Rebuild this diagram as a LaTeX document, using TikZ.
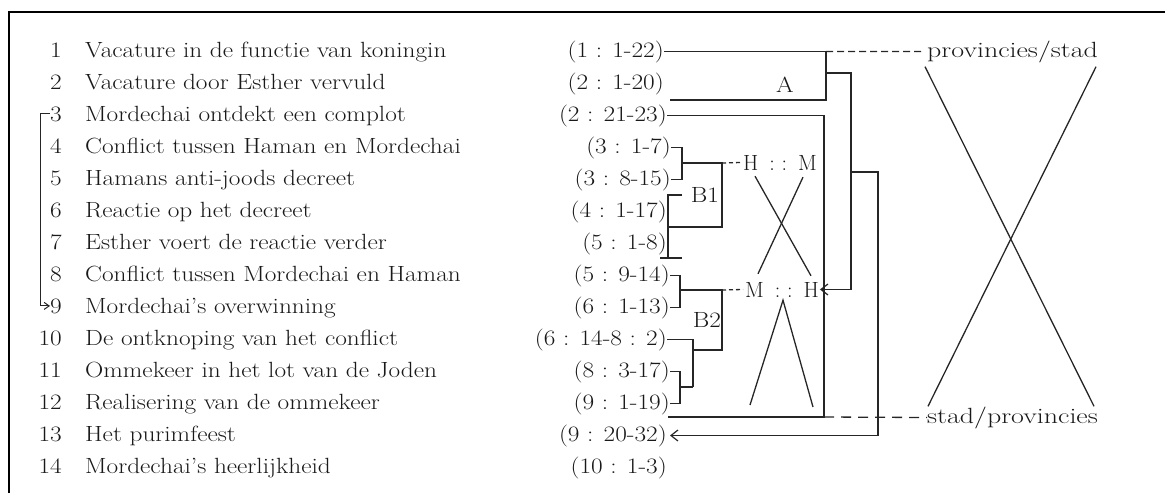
\documentclass[tikz,border=0pt]{standalone}
\usepackage{fontspec}
\usepackage{graphicx}
\usetikzlibrary{arrows.meta,calc}
\newcommand\W[1]{\scalebox{1.15}[1]{#1}}
\newcommand\WW[1]{\scalebox{1.27}[1]{#1}}
\tikzset{
  lbl/.style={font=\fontsize{22}{25}\selectfont, inner sep=0pt, text=black!90},
  conn/.style={line width=1.3pt, draw=black!85},
  dashA/.style={conn, dash pattern=on 7pt off 4pt},
  dashB/.style={conn, dash pattern=on 10pt off 7pt},
  dashC/.style={conn, dash pattern=on 4pt off 3pt},
  arr/.style={-{Straight Barb[length=7pt,width=11pt,line width=1.2pt]}},
  sarr/.style={-{Straight Barb[length=5pt,width=7pt,line width=1pt]}},
}
\begin{document}
\begin{tikzpicture}[x=1pt,y=-1pt]
\useasboundingbox (0,0) rectangle (1165,493);
\draw[line width=2pt] (9,493) -- (9,12) -- (1165,12);

% numbers
\node[lbl,anchor=base east] (n1) at (62,57) {\W{1}};
\node[lbl,anchor=base east] (n2) at (62,89) {\W{2}};
\node[lbl,anchor=base east] (n3) at (62,121) {\W{3}};
\node[lbl,anchor=base east] (n4) at (62,153) {\W{4}};
\node[lbl,anchor=base east] (n5) at (62,185) {\W{5}};
\node[lbl,anchor=base east] (n6) at (62,217) {\W{6}};
\node[lbl,anchor=base east] (n7) at (62,249) {\W{7}};
\node[lbl,anchor=base east] (n8) at (62,281) {\W{8}};
\node[lbl,anchor=base east] (n9) at (62,313) {\W{9}};
\node[lbl,anchor=base east] (n10) at (62,345) {\W{10}};
\node[lbl,anchor=base east] (n11) at (62,377) {\W{11}};
\node[lbl,anchor=base east] (n12) at (62,409) {\W{12}};
\node[lbl,anchor=base east] (n13) at (62,441) {\W{13}};
\node[lbl,anchor=base east] (n14) at (62,473) {\W{14}};

% titles
\node[lbl,anchor=base west] (t1) at (85,57) {\W{Vacature in de functie van koningin}};
\node[lbl,anchor=base west] (t2) at (85,89) {\W{Vacature door Esther vervuld}};
\node[lbl,anchor=base west] (t3) at (85,121) {\W{Mordechai ontdekt een complot}};
\node[lbl,anchor=base west] (t4) at (85,153) {\W{Conflict tussen Haman en Mordechai}};
\node[lbl,anchor=base west] (t5) at (85,185) {\W{Hamans anti-joods decreet}};
\node[lbl,anchor=base west] (t6) at (85,217) {\W{Reactie op het decreet}};
\node[lbl,anchor=base west] (t7) at (85,249) {\W{Esther voert de reactie verder}};
\node[lbl,anchor=base west] (t8) at (85,281) {\W{Conflict tussen Mordechai en Haman}};
\node[lbl,anchor=base west] (t9) at (85,313) {\W{Mordechai's overwinning}};
\node[lbl,anchor=base west] (t10) at (85,345) {\W{De ontknoping van het conflict}};
\node[lbl,anchor=base west] (t11) at (85,377) {\W{Ommekeer in het lot van de Joden}};
\node[lbl,anchor=base west] (t12) at (85,409) {\W{Realisering van de ommekeer}};
\node[lbl,anchor=base west] (t13) at (85,441) {\W{Het purimfeest}};
\node[lbl,anchor=base west] (t14) at (85,473) {\W{Mordechai's heerlijkheid}};

% references
\node[lbl,anchor=base east] (d1) at (664,57) {\W{(1 : 1-22)}};
\node[lbl,anchor=base east] (d2) at (664,89) {\W{(2 : 1-20)}};
\node[lbl,anchor=base east] (d3) at (667,121) {\W{(2 : 21-23)}};
\node[lbl,anchor=base east] (d4) at (671,153) {\W{(3 : 1-7)}};
\node[lbl,anchor=base east] (d5) at (671,185) {\W{(3 : 8-15)}};
\node[lbl,anchor=base east] (d6) at (667,217) {\W{(4 : 1-17)}};
\node[lbl,anchor=base east] (d7) at (667,249) {\W{(5 : 1-8)}};
\node[lbl,anchor=base east] (d8) at (670,281) {\W{(5 : 9-14)}};
\node[lbl,anchor=base east] (d9) at (670,313) {\W{(6 : 1-13)}};
\node[lbl,anchor=base east] (d10) at (667,345) {\W{(6 : 14-8 : 2)}};
\node[lbl,anchor=base east] (d11) at (670,377) {\W{(8 : 3-17)}};
\node[lbl,anchor=base east] (d12) at (670,409) {\W{(9 : 1-19)}};
\node[lbl,anchor=base east] (d13) at (667,441) {\W{(9 : 20-32)}};
\node[lbl,anchor=base east] (d14) at (667,473) {\W{(10 : 1-3)}};

% labels
\node[lbl] (A) at (785,85) {\W{A}};
\node[lbl] (B1) at (705,195) {\W{B1}};
\node[lbl] (B2) at (707,320) {\W{B2}};
\node[lbl,anchor=base] (HM) at (780,170) {H\hspace{0.5em}:\hspace{0.3em}:\hspace{0.5em}M};
\node[lbl,anchor=base] (MH) at (782,297) {M\hspace{0.5em}:\hspace{0.3em}:\hspace{0.5em}H};
\node[lbl,anchor=base west] (prov) at (927,57) {\WW{provincies/stad}};
\node[lbl,anchor=base west] (stad) at (927,423) {\WW{stad/provincies}};

% coordinates
\coordinate (Ax) at (826,0);
\coordinate (Abl) at (670,100);
\coordinate (Aout) at (826,73);
\coordinate (Vx) at (851,0);
\coordinate (Bx) at (878,0);
\coordinate (Bin) at (851,172);
\coordinate (Cx) at (824,0);
\coordinate (Cbl) at (668,417);
\coordinate (Lx) at (40,0);
\coordinate (b1x) at (682,0);
\coordinate (b1m) at (682,163);
\coordinate (B1r) at (722,163);
\coordinate (B1b) at (668,227);
\coordinate (ib1) at (668,195);
\coordinate (ib2) at (668,258);
\coordinate (b2x) at (680,0);
\coordinate (b2m) at (680,290);
\coordinate (B2r) at (722,290);
\coordinate (B2b) at (693,350);
\coordinate (c2x) at (693,0);
\coordinate (c3m) at (680,387);
\coordinate (V1) at (750,405);
\coordinate (V2) at (813,407);

% loop 3 -> 9
\draw[conn,sarr,line width=1pt] (n3.west) -- (n3.west -| Lx) -- (n9.west -| Lx) -- (n9.west);

% A bracket
\draw[conn] (d1.east) -- (d1.east -| Ax) |- (Abl);
\draw[dashA] (d1.east -| Ax) -- ([xshift=-3pt]prov.west);
\draw[conn,arr,shorten >=1pt] (Aout) -| (Vx |- MH.east) -- (MH.east);
\draw[conn,arr,shorten >=3pt] (Bin) -| (Bx |- d13.east) -- (d13.east);

% big box 2:21-23 ... 9:1-19
\draw[conn] (d3.east) -- (d3.east -| Cx) |- (Cbl);
\draw[dashB] (Cx |- Cbl) -- (stad.west);

% B1
\draw[conn] (d4.east) -- (d4.east -| b1x) -- (d5.east -| b1x) -- (d5.east);
\draw[conn] (b1m) -- (B1r) |- (B1b);
\draw[dashC] (B1r) -- ([xshift=-2pt]HM.west);
\draw[conn] ([xshift=14pt]ib1) -- (ib1) -- (ib2);
\draw[conn] ([xshift=-8pt]ib2) -- ([xshift=14pt]ib2);

% B2
\draw[conn] (d8.east) -- (d8.east -| b2x) -- (d9.east -| b2x) -- (d9.east);
\draw[conn] (b2m) -- (B2r) |- (B2b);
\draw[dashC] (B2r) -- ([xshift=-2pt]MH.west);
\draw[conn] (d10.east) -- (d10.east -| c2x) -- (c2x |- c3m);
\draw[conn] (d11.east) -- (d11.east -| b2x) -- (d12.east -| b2x) -- (d12.east);
\draw[conn] (c3m) -- (c2x |- c3m);

% small X and inverted V
\draw[conn] ([shift={(12,6)}]HM.south west) -- ([shift={(-8,-6)}]MH.north east);
\draw[conn] ([shift={(-14,7)}]HM.south east) -- ([shift={(13,-8)}]MH.north west);
\draw[conn] (V1) -- ([shift={(1,3)}]MH.south) -- (V2);

% big X
\draw[conn] ([shift={(-2,4)}]prov.south west) -- ([shift={(-4,0)}]stad.north east);
\draw[conn] ([shift={(-2,4)}]prov.south east) -- ([shift={(1,0)}]stad.north west);
\end{tikzpicture}
\end{document}
